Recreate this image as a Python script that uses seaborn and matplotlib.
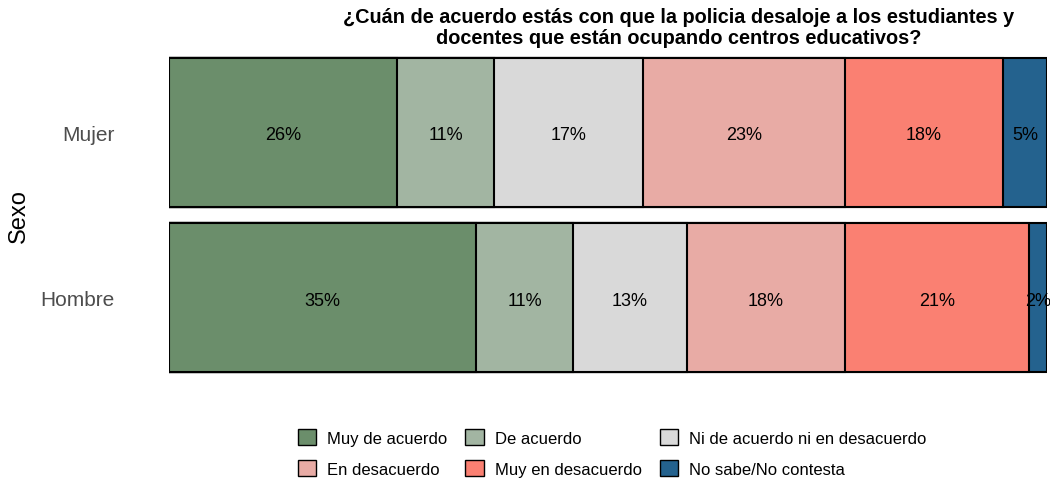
import matplotlib
matplotlib.use("Agg")
import matplotlib.pyplot as plt
import matplotlib.patches as mpatches
import pandas as pd
import numpy as np
import seaborn as sns

# Data (percent)
sexo = ["Mujer", "Hombre"]
respuestas = ["Muy de acuerdo", "De acuerdo", "Ni de acuerdo ni en desacuerdo",
              "En desacuerdo", "Muy en desacuerdo", "No sabe/No contesta"]
mujer = [26, 11, 17, 23, 18, 5]
hombre = [35, 11, 13, 18, 21, 2]
colores = ["#6b8e6b", "#a2b5a2", "#d9d9d9", "#e8aba5", "#fa8072", "#24628e"]

df = pd.DataFrame({"Sexo": np.repeat(sexo, len(respuestas)),
                   "Respuesta": respuestas * 2,
                   "pct": mujer + hombre})
df["Respuesta"] = pd.Categorical(df["Respuesta"], categories=respuestas, ordered=True)
df = df.sort_values(["Sexo", "Respuesta"])
df["fin"] = df.groupby("Sexo")["pct"].cumsum()
df["inicio"] = df["fin"] - df["pct"]

sns.set_theme(style="white")
plt.rcParams['font.family'] = ['Liberation Sans', 'DejaVu Sans']
plt.rcParams['text.color'] = 'black'

fig = plt.figure(figsize=(10.5, 4.81), dpi=100)
ax = fig.add_axes([169 / 1050, 1 - 375 / 481, 878 / 1050, 318 / 481])

# stacked bars: draw the cumulative totals from the outermost inward
for resp, col in zip(respuestas[::-1], colores[::-1]):
    sub = df[df["Respuesta"] == resp]
    sns.barplot(data=sub, x="fin", y="Sexo", order=sexo, color=col, orient="h",
                width=0.9, edgecolor="black", linewidth=1.5, ax=ax,
                saturation=1, errorbar=None)

for _, r in df.iterrows():
    yy = sexo.index(r["Sexo"])
    ax.text(r["inicio"] + r["pct"] / 2, yy + 0.015, f"{r['pct']}%", ha="center", va="center",
            fontsize=13, color="black")

ax.set_xlim(0, 100)
ax.set_ylim(1.46, -0.46)
ax.set_xticks([])
ax.set_xlabel("")
ax.set_ylabel("")
ax.tick_params(axis="y", length=0, pad=39, labelsize=15, labelcolor="#4d4d4d")
for s in ax.spines.values():
    s.set_visible(False)

fig.text(19 / 1050, 1 - 216 / 481, "Sexo", rotation=90, ha="center", va="center",
         fontsize=17, color="black")

fig.text(679 / 1050, 1 - 28 / 481,
         "¿Cuán de acuerdo estás con que la policia desaloje a los estudiantes y\n"
         "docentes que están ocupando centros educativos?",
         ha="center", va="center", fontsize=14.3, fontweight="bold", color="black",
         multialignment="center", linespacing=1.1)

handles = [mpatches.Patch(facecolor=c, edgecolor="black", linewidth=1.0, label=l)
           for c, l in zip(colores, respuestas)]
# matplotlib fills legend columns first, reorder to fill by rows
orden = [0, 3, 1, 4, 2, 5]
fig.legend([handles[i] for i in orden], [respuestas[i] for i in orden],
           loc="center", bbox_to_anchor=(612 / 1050, 1 - 454 / 481), ncol=3,
           frameon=False, fontsize=12, handlelength=1.1, handleheight=1.1,
           handletextpad=0.65, columnspacing=1.1, labelspacing=0.85)

fig.savefig("out.png", dpi=100)
